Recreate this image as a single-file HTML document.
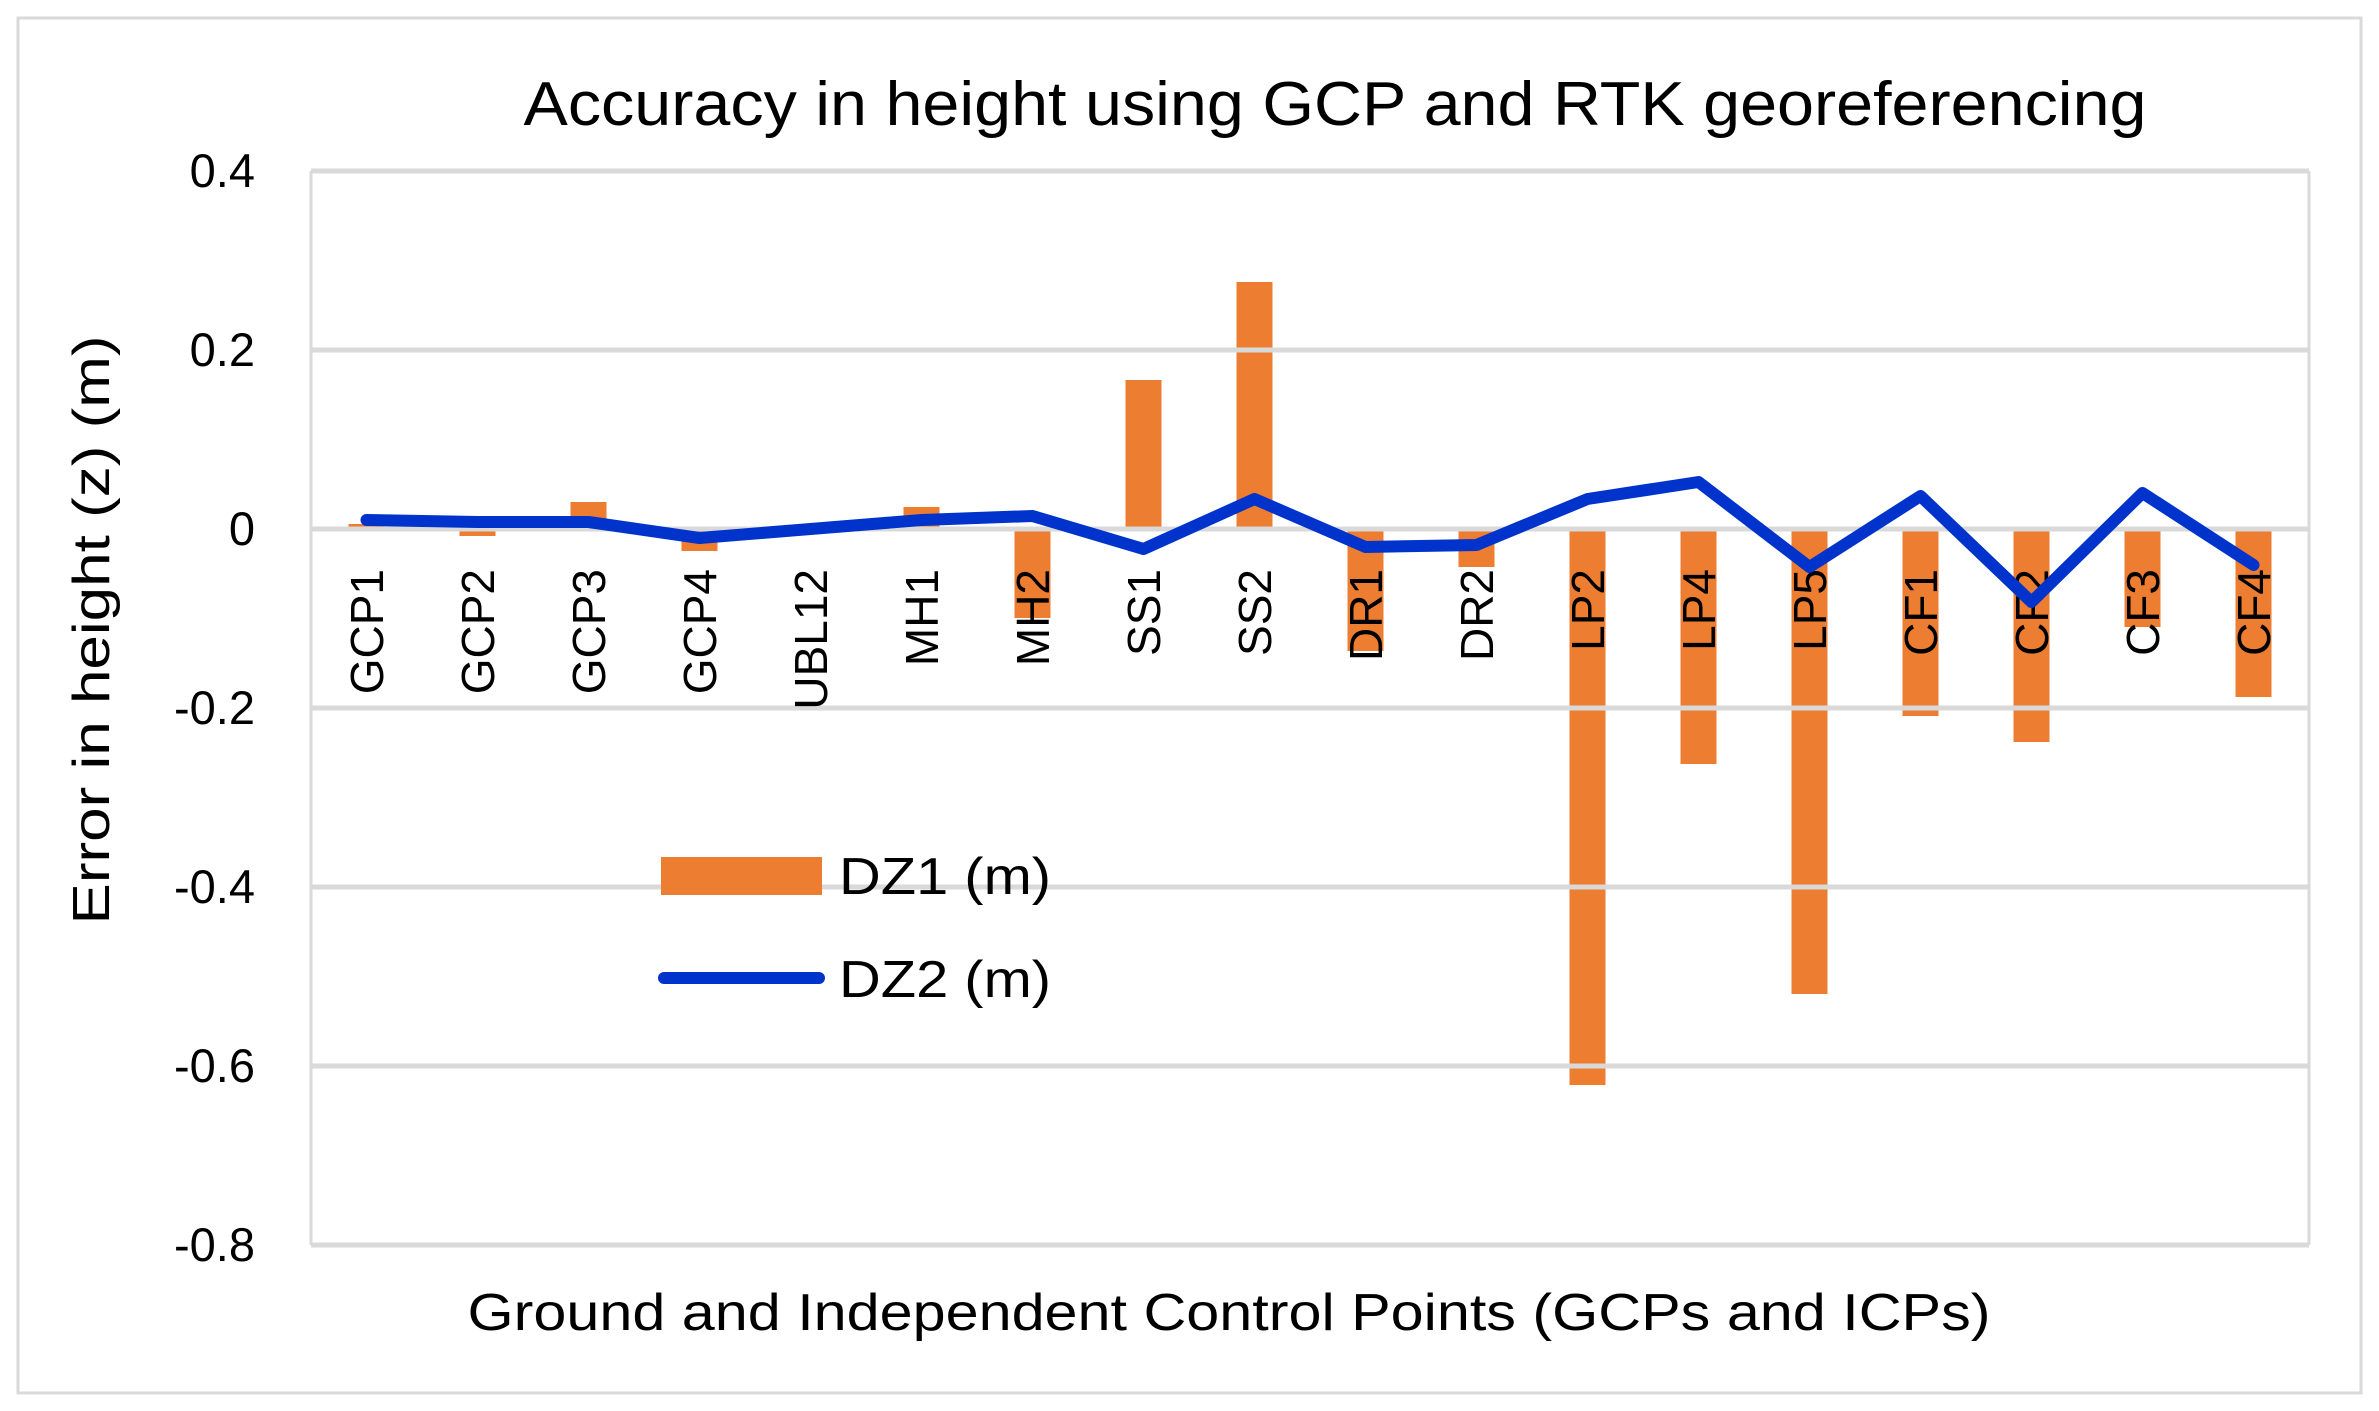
<!DOCTYPE html>
<html><head><meta charset="utf-8"><style>body{margin:0;background:#fff}svg{display:block}</style></head>
<body>
<svg width="2379" height="1411" xmlns="http://www.w3.org/2000/svg" font-family="Liberation Sans, Arial, sans-serif">
<rect x="0" y="0" width="2379" height="1411" fill="#fff"/>
<rect x="18" y="18" width="2343" height="1375" fill="#fff" stroke="#d9d9d9" stroke-width="3"/>
<text x="1335" y="125" font-size="62" text-anchor="middle" textLength="1623" lengthAdjust="spacingAndGlyphs">Accuracy in height using GCP and RTK georeferencing</text>
<g fill="#ED7D31">
<rect x="348.5" y="524" width="36" height="5"/>
<rect x="459.5" y="529" width="36" height="7"/>
<rect x="570.5" y="502" width="36" height="27"/>
<rect x="681.5" y="529" width="36" height="22"/>
<rect x="903.5" y="507" width="36" height="22"/>
<rect x="1014.5" y="529" width="36" height="89"/>
<rect x="1125.5" y="380" width="36" height="149"/>
<rect x="1236.5" y="282" width="36" height="247"/>
<rect x="1347.5" y="529" width="36" height="122"/>
<rect x="1458.5" y="529" width="36" height="38"/>
<rect x="1569.5" y="529" width="36" height="556"/>
<rect x="1680.5" y="529" width="36" height="235"/>
<rect x="1791.5" y="529" width="36" height="465"/>
<rect x="1902.5" y="529" width="36" height="187"/>
<rect x="2013.5" y="529" width="36" height="213"/>
<rect x="2124.5" y="529" width="36" height="98"/>
<rect x="2235.5" y="529" width="36" height="168"/>
</g>
<g stroke="#d9d9d9" stroke-width="5">
<line x1="311" y1="171" x2="2309" y2="171"/>
<line x1="311" y1="350" x2="2309" y2="350"/>
<line x1="311" y1="529" x2="2309" y2="529"/>
<line x1="311" y1="708" x2="2309" y2="708"/>
<line x1="311" y1="887" x2="2309" y2="887"/>
<line x1="311" y1="1066" x2="2309" y2="1066"/>
<line x1="311" y1="1245" x2="2309" y2="1245"/>
<line x1="311" y1="171" x2="311" y2="1245" stroke-width="3"/>
<line x1="2309" y1="171" x2="2309" y2="1245" stroke-width="3"/>
</g>
<g font-size="47" text-anchor="end">
<text x="255" y="187">0.4</text>
<text x="255" y="366">0.2</text>
<text x="255" y="545">0</text>
<text x="255" y="724">-0.2</text>
<text x="255" y="903">-0.4</text>
<text x="255" y="1082">-0.6</text>
<text x="255" y="1261">-0.8</text>
</g>
<g font-size="46" text-anchor="end">
<text transform="translate(383,569) rotate(-90)">GCP1</text>
<text transform="translate(494,569) rotate(-90)">GCP2</text>
<text transform="translate(605,569) rotate(-90)">GCP3</text>
<text transform="translate(716,569) rotate(-90)">GCP4</text>
<text transform="translate(827,569) rotate(-90)">UBL12</text>
<text transform="translate(938,569) rotate(-90)">MH1</text>
<text transform="translate(1049,569) rotate(-90)">MH2</text>
<text transform="translate(1160,569) rotate(-90)">SS1</text>
<text transform="translate(1271,569) rotate(-90)">SS2</text>
<text transform="translate(1382,569) rotate(-90)">DR1</text>
<text transform="translate(1493,569) rotate(-90)">DR2</text>
<text transform="translate(1604,569) rotate(-90)">LP2</text>
<text transform="translate(1715,569) rotate(-90)">LP4</text>
<text transform="translate(1826,569) rotate(-90)">LP5</text>
<text transform="translate(1937,569) rotate(-90)">CF1</text>
<text transform="translate(2048,569) rotate(-90)">CF2</text>
<text transform="translate(2159,569) rotate(-90)">CF3</text>
<text transform="translate(2270,569) rotate(-90)">CF4</text>
</g>
<polyline fill="none" stroke="#0033CC" stroke-width="12" stroke-linejoin="round" stroke-linecap="round" points="366.5,520 477.5,522 588.5,522 699.5,538 810.5,529 921.5,520 1032.5,516 1143.5,549 1254.5,499 1365.5,547 1476.5,545 1587.5,499 1698.5,482 1809.5,567 1920.5,496 2031.5,602 2142.5,493 2253.5,565"/>
<text transform="translate(109,630) rotate(-90)" font-size="52" text-anchor="middle" textLength="589" lengthAdjust="spacingAndGlyphs">Error in height (z)  (m)</text>
<text x="1229" y="1330" font-size="52" text-anchor="middle" textLength="1523" lengthAdjust="spacingAndGlyphs">Ground and Independent Control Points (GCPs and ICPs)</text>
<rect x="661" y="857" width="161" height="38" fill="#ED7D31"/>
<text x="839" y="894" font-size="52" textLength="212" lengthAdjust="spacingAndGlyphs">DZ1 (m)</text>
<line x1="664" y1="978" x2="819" y2="978" stroke="#0033CC" stroke-width="12" stroke-linecap="round"/>
<text x="839" y="997" font-size="52" textLength="212" lengthAdjust="spacingAndGlyphs">DZ2 (m)</text>
</svg>
</body></html>
